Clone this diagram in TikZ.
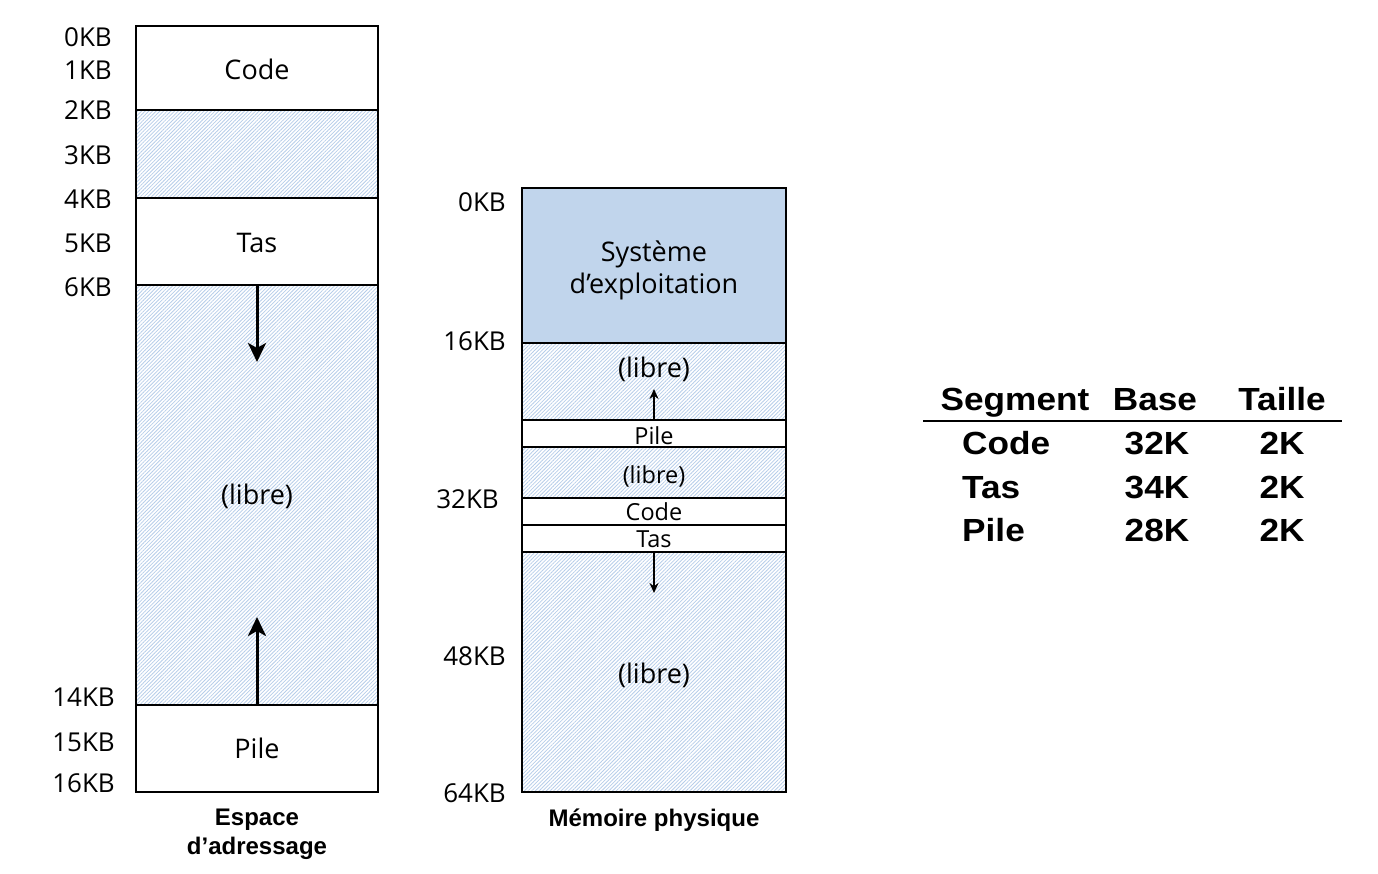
\documentclass[tikz,border=0pt]{standalone}
\usepackage{fontspec}
\setmainfont{Open Sans}
\newfontfamily\boldsans[FakeStretch=1.1]{Liberation Sans Bold}
\newfontfamily\capsans{Liberation Sans Bold}
\usetikzlibrary{patterns.meta,arrows.meta}
\definecolor{hatch}{HTML}{B6CDE9}
\definecolor{osblue}{HTML}{C1D5EC}
\begin{document}
\begin{tikzpicture}[x=1pt,y=-1pt,
  seg/.style={draw=black,line width=1.8pt,anchor=north west,inner sep=0pt,outer sep=0pt,minimum width=#1},
  free/.style={pattern={Lines[angle=45,distance=2.6pt,line width=0.8pt]},pattern color=hatch},
  lab/.style={font=\fontsize{26}{28}\selectfont,anchor=east,inner sep=0pt,text height=18.6pt,text depth=0pt},
  txt/.style={font=\fontsize{27}{32}\selectfont,inner sep=0pt,text height=19.3pt,text depth=0pt},
  stxt/.style={font=\fontsize{23.5}{24}\selectfont,inner sep=0pt,text height=16.8pt,text depth=0pt},
  captext/.style={font=\capsans\fontsize{24}{29}\selectfont,inner sep=0pt,text height=17.2pt,text depth=0pt},
  tab/.style={font=\boldsans\fontsize{32}{36}\selectfont,inner sep=0pt,text height=22.9pt,text depth=0pt},
  bigarrow/.style={-{Stealth[length=19pt,width=18pt,inset=5pt]},line width=3pt},
  smallarrow/.style={-{Stealth[length=10pt,width=9pt]},line width=1.6pt}]
\useasboundingbox (0,0) rectangle (1378,874);
% ---------- address space ----------
\node[seg=242pt,minimum height=84pt] (acode) at (136,26) {};
\node[seg=242pt,minimum height=88pt,free] (afree) at (136,110) {};
\node[seg=242pt,minimum height=87pt] (atas) at (136,198) {};
\node[seg=242pt,minimum height=420pt,free] (alibre) at (136,285) {};
\node[seg=242pt,minimum height=87pt] (apile) at (136,705) {};
\node[txt] (tcode) at (257,70) {Code};
\node[txt] (ttas) at (257,243) {Tas};
\node[txt] (tlibre) at (257,495) {(libre)};
\node[txt] (tpile) at (257,749) {Pile};
\coordinate (adown) at (257,362);
\coordinate (aup) at (257,617);
\draw[bigarrow] (alibre.north) -- (adown);
\draw[bigarrow] (apile.north) -- (aup);
\node[lab] (l0) at (112,37) {0KB};
\node[lab] (l1) at (112,70) {1KB};
\node[lab] (l2) at (112,110) {2KB};
\node[lab] (l3) at (112,155) {3KB};
\node[lab] (l4) at (112,199) {4KB};
\node[lab] (l5) at (112,243) {5KB};
\node[lab] (l6) at (112,287) {6KB};
\node[lab] (l14) at (115,697) {14KB};
\node[lab] (l15) at (115,742) {15KB};
\node[lab] (l16) at (115,783) {16KB};
\node[captext] (capa1) at (257,817) {Espace};
\node[captext] (capa2) at (257,846) {d’adressage};
% ---------- physical memory ----------
\node[seg=264pt,minimum height=155pt,fill=osblue] (pos) at (522,188) {};
\node[seg=264pt,minimum height=77pt,free] (pfree1) at (522,343) {};
\node[seg=264pt,minimum height=27pt] (ppile) at (522,420) {};
\node[seg=264pt,minimum height=51pt,free] (pfree2) at (522,447) {};
\node[seg=264pt,minimum height=27pt] (pcode) at (522,498) {};
\node[seg=264pt,minimum height=27pt] (ptas) at (522,525) {};
\node[seg=264pt,minimum height=240pt,free] (pfree3) at (522,552) {};
\node[txt] (tos1) at (654,252) {Système};
\node[txt] (tos2) at (654,284) {d’exploitation};
\node[txt] (tl1) at (654,368) {(libre)};
\node[stxt] (tp) at (654,436) {Pile};
\node[stxt] (tl2) at (654,475) {(libre)};
\node[stxt] (tc) at (654,512) {Code};
\node[stxt] (tt) at (654,539) {Tas};
\node[txt] (tl3) at (654,674) {(libre)};
\coordinate (pup) at (654,389);
\coordinate (pdown) at (654,593);
\draw[smallarrow] (ppile.north) -- (pup);
\draw[smallarrow] (ptas.south) -- (pdown);
\node[lab] (m0) at (506,202) {0KB};
\node[lab] (m16) at (506,341) {16KB};
\node[lab] (m32) at (499,499) {32KB};
\node[lab] (m48) at (506,656) {48KB};
\node[lab] (m64) at (506,793) {64KB};
\node[captext] (capp) at (654,818) {Mémoire physique};
% ---------- table ----------
\node[tab] (hseg) at (1015,399) {Segment};
\node[tab] (hbase) at (1155,399) {Base};
\node[tab] (htaille) at (1282,399) {Taille};
\coordinate (rl) at (923,421);
\coordinate (rr) at (1342,421);
\draw[line width=2.2pt] (rl) -- (rr);
\node[tab,anchor=west] (r1a) at (962,443) {Code};
\node[tab] (r1b) at (1157,443) {32K};
\node[tab] (r1c) at (1282,443) {2K};
\node[tab,anchor=west] (r2a) at (962,487) {Tas};
\node[tab] (r2b) at (1157,487) {34K};
\node[tab] (r2c) at (1282,487) {2K};
\node[tab,anchor=west] (r3a) at (962,530) {Pile};
\node[tab] (r3b) at (1157,530) {28K};
\node[tab] (r3c) at (1282,530) {2K};
\end{tikzpicture}
\end{document}
